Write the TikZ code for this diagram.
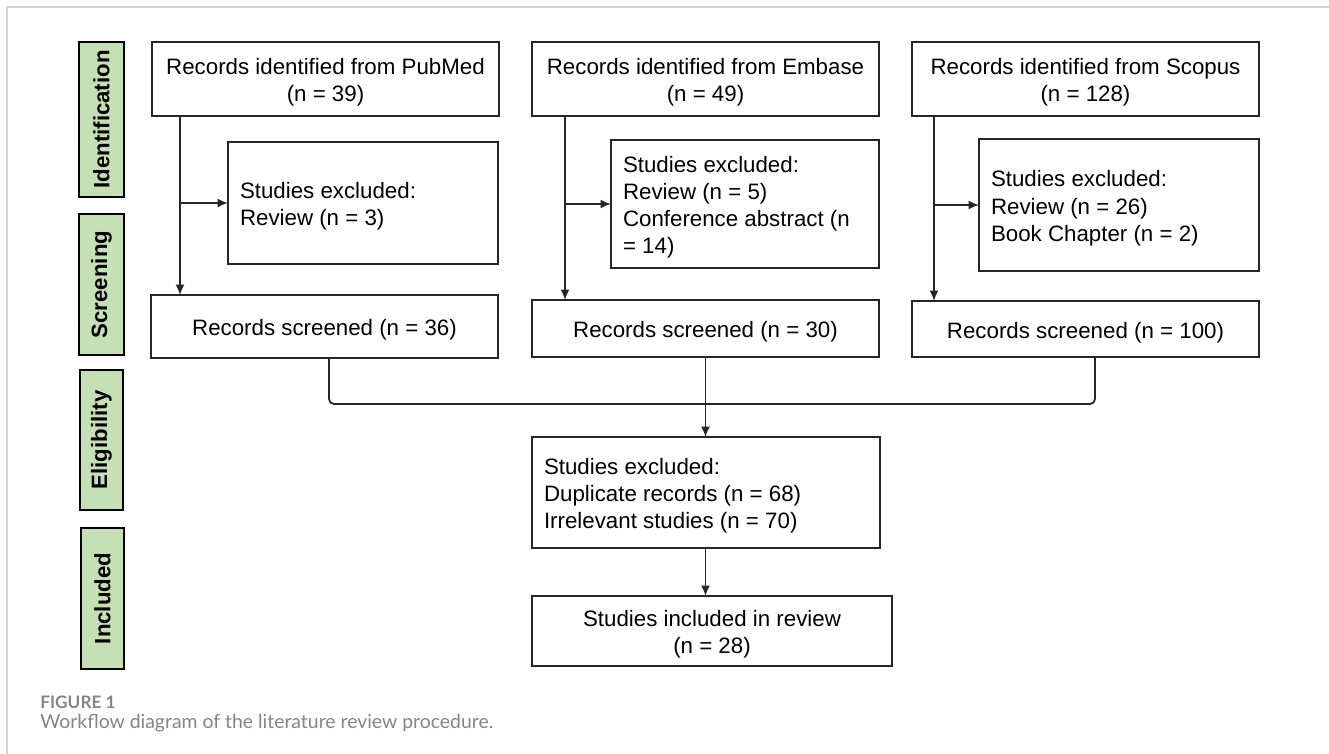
\documentclass[tikz,border=0pt]{standalone}
\usepackage{fontspec}
\setmainfont{Liberation Sans}
\newfontfamily\capfont{Lato}
\usetikzlibrary{arrows.meta}
\definecolor{lblgreen}{HTML}{C5E0B4}
\definecolor{boxline}{HTML}{262626}
\definecolor{framegray}{HTML}{D4D4D4}
\definecolor{capgray}{HTML}{858585}
\newcommand\flowbox[7]{%
  \pgfmathsetmacro\bxw{(#4-#2)*0.5}%
  \pgfmathsetmacro\bxh{(#5-#3)*0.5}%
  \pgfmathsetmacro\bxtw{(#4-#2)*0.5-12}%
  \pgfmathsetmacro\bxcx{(#2+#4)/2}%
  \pgfmathsetmacro\bxcy{(#3+#5)/2}%
  \node[#6, minimum width=\bxw pt, minimum height=\bxh pt] (#1) at (\bxcx,\bxcy) {\rule{0pt}{11.4pt}#7};%
}
\begin{document}
\begin{tikzpicture}[x=0.5pt,y=-0.5pt,
  box/.style={draw=boxline, line width=0.9pt, outer sep=0pt, inner sep=0pt, align=center,
    font=\fontsize{11.15}{13.6}\selectfont},
  lbox/.style={box, align=flush left, text width=\bxtw pt, inner xsep=6pt},
  lbl/.style={draw=black, fill=lblgreen, line width=0.9pt, rotate=90, outer sep=0pt, inner sep=0pt,
    font=\bfseries\fontsize{11.1}{13}\selectfont},
  conn/.style={draw=boxline, line width=0.9pt},
  arr/.style={conn, -{Latex[length=5.2pt,width=4.5pt]}},
  captxt/.style={anchor=base west, inner sep=0pt, text=capgray}]
\useasboundingbox (0,0) rectangle (1329,754);
\draw[framegray, line width=0.8pt] (7,754) -- (7,7) -- (1329,7);
% stage labels
\node[lbl, minimum width=77.5pt, minimum height=22.5pt] (lid) at (101.5,119.5) {Identification};
\node[lbl, minimum width=70.5pt, minimum height=22.5pt] (lsc) at (101.5,284.5) {Screening};
\node[lbl, minimum width=70pt, minimum height=21.5pt] (lel) at (101.5,440) {Eligibility};
\node[lbl, minimum width=70.5pt, minimum height=21.5pt] (lin) at (102.5,598.5) {Included};
% boxes
\flowbox{pt}{152}{42}{499}{116}{box}{Records identified from PubMed\\(n = 39)}
\flowbox{px}{228}{142}{498}{264}{lbox}{Studies excluded:\\Review (n = 3)}
\flowbox{ps}{151}{295}{498}{358}{box}{Records screened (n = 36)}
\flowbox{et}{532}{42}{879}{116}{box}{Records identified from Embase\\(n = 49)}
\flowbox{ex}{611}{140}{879}{268}{lbox}{Studies excluded:\\Review (n = 5)\\Conference abstract (n\\= 14)}
\flowbox{es}{532}{300}{879}{357}{box}{Records screened (n = 30)}
\flowbox{st}{912}{42}{1259}{116}{box}{Records identified from Scopus\\(n = 128)}
\flowbox{sx}{979}{139}{1259}{271}{lbox}{Studies excluded:\\Review (n = 26)\\Book Chapter (n = 2)}
\flowbox{ss}{912}{301}{1259}{357}{box}{Records screened (n = 100)}
\flowbox{dup}{532}{437}{880}{548}{lbox}{Studies excluded:\\Duplicate records (n = 68)\\Irrelevant studies (n = 70)}
\flowbox{inc}{532}{596}{892}{666}{box}{Studies included in review\\(n = 28)}
% connectors
\coordinate (pa) at (180,0);
\coordinate (ea) at (565,0);
\coordinate (sa) at (934,0);
\draw[arr] (pt.south -| pa) -- (ps.north -| pa);
\draw[arr] (pa |- px.west) -- (px.west);
\draw[arr] (et.south -| ea) -- (es.north -| ea);
\draw[arr] (ea |- ex.west) -- (ex.west);
\draw[arr] (st.south -| sa) -- (ss.north -| sa);
\draw[arr] (sa |- sx.west) -- (sx.west);
\coordinate (m1) at (329,404);
\coordinate (m2) at (1095,404);
\draw[conn, rounded corners=2.5pt] (ps.south -| m1) -- (m1) -- (m2) -- (ss.south -| m2);
\draw[arr] (es.south) -- (es.south |- dup.north);
\draw[arr] (es.south |- dup.south) -- (es.south |- inc.north);
% caption
\node[captxt, font=\capfont\bfseries\fontsize{8.6}{10}\selectfont] (fig) at (40,708) {FIGURE 1};
\node[captxt, font=\capfont\fontsize{9.7}{12}\selectfont] (capt) at (40,728) {Workflow diagram of the literature review procedure.};
\end{tikzpicture}
\end{document}
